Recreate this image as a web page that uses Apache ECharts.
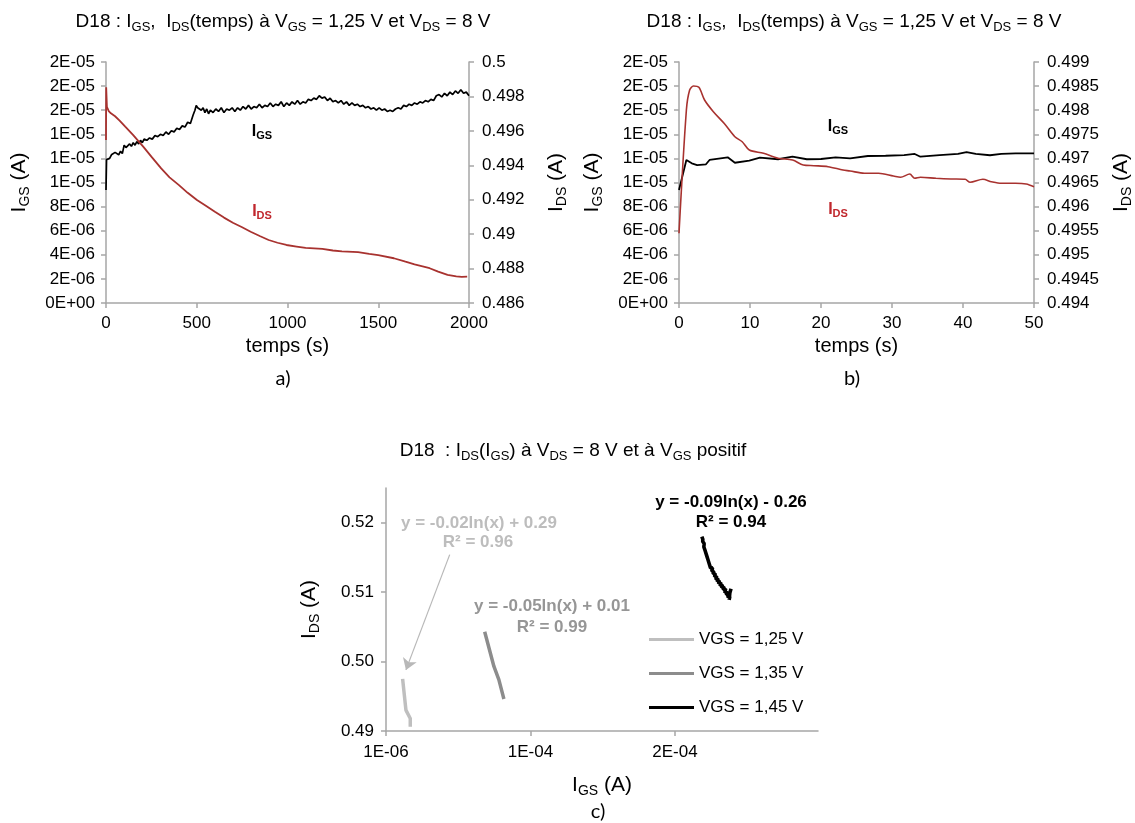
<!DOCTYPE html>
<html><head><meta charset="utf-8">
<script src="https://cdn.jsdelivr.net/npm/echarts@6/dist/echarts.min.js"></script>
<style>html,body{margin:0;padding:0;background:#fff}#c{width:1135px;height:823px}</style>
</head><body><div id="c"></div>
<script>
// ---------- Chart a : IGS, IDS vs time (0-2000 s) ----------
const tA_igs = [
  0,3,10,20,30,40,50,60,70,80,
  90,100,110,120,130,140,150,160,170,180,
  190,200,210,225,240,255,270,285,300,315,
  330,345,360,375,390,405,420,435,450,465,
  480,490,497,505,515,525,535,545,555,565,
  575,590,605,620,635,650,665,680,695,710,
  725,740,755,770,785,800,815,830,845,860,
  875,890,905,920,935,950,965,980,995,1010,
  1025,1040,1055,1070,1085,1100,1115,1130,1145,1160,
  1175,1190,1205,1220,1235,1250,1265,1280,1295,1310,
  1325,1340,1355,1370,1385,1400,1415,1430,1445,1460,
  1475,1490,1505,1520,1535,1550,1565,1580,1595,1610,
  1625,1640,1655,1670,1685,1700,1715,1730,1745,1760,
  1775,1790,1805,1820,1835,1850,1865,1880,1895,1910,
  1925,1940,1955,1970,1985,2000
];
const igsA = [
  0.938e-5,1.19e-5,1.18e-5,1.20e-5,1.23e-5,1.22e-5,1.25e-5,1.24e-5,1.23e-5,1.26e-5,
  1.24e-5,1.31e-5,1.29e-5,1.30e-5,1.32e-5,1.30e-5,1.33e-5,1.31e-5,1.34e-5,1.32e-5,
  1.35e-5,1.33e-5,1.36e-5,1.35e-5,1.37e-5,1.36e-5,1.39e-5,1.38e-5,1.40e-5,1.39e-5,
  1.42e-5,1.40e-5,1.43e-5,1.42e-5,1.45e-5,1.44e-5,1.47e-5,1.46e-5,1.50e-5,1.49e-5,
  1.56e-5,1.60e-5,1.64e-5,1.62e-5,1.63e-5,1.60e-5,1.62e-5,1.58e-5,1.61e-5,1.57e-5,
  1.60e-5,1.58e-5,1.61e-5,1.59e-5,1.62e-5,1.58e-5,1.61e-5,1.60e-5,1.62e-5,1.59e-5,
  1.62e-5,1.60e-5,1.63e-5,1.61e-5,1.64e-5,1.61e-5,1.63e-5,1.62e-5,1.65e-5,1.62e-5,
  1.64e-5,1.63e-5,1.66e-5,1.63e-5,1.65e-5,1.64e-5,1.67e-5,1.63e-5,1.66e-5,1.64e-5,
  1.67e-5,1.65e-5,1.68e-5,1.65e-5,1.67e-5,1.66e-5,1.69e-5,1.68e-5,1.70e-5,1.69e-5,
  1.72e-5,1.70e-5,1.71e-5,1.68e-5,1.70e-5,1.67e-5,1.68e-5,1.66e-5,1.68e-5,1.65e-5,
  1.67e-5,1.64e-5,1.66e-5,1.64e-5,1.65e-5,1.63e-5,1.64e-5,1.62e-5,1.63e-5,1.61e-5,
  1.62e-5,1.60e-5,1.62e-5,1.60e-5,1.61e-5,1.59e-5,1.60e-5,1.59e-5,1.61e-5,1.62e-5,
  1.61e-5,1.64e-5,1.63e-5,1.65e-5,1.64e-5,1.66e-5,1.65e-5,1.67e-5,1.66e-5,1.68e-5,
  1.67e-5,1.69e-5,1.68e-5,1.72e-5,1.73e-5,1.71e-5,1.74e-5,1.72e-5,1.75e-5,1.73e-5,
  1.76e-5,1.74e-5,1.77e-5,1.74e-5,1.75e-5,1.72e-5
];
const tA_ids = [
  0,1,5,15,27,50,75,106,150,205,
  250,304,350,402,450,501,550,600,650,699,
  750,797,850,896,945,994,1050,1100,1192,1250,
  1300,1389,1450,1500,1586,1650,1700,1783,1830,1882,
  1930,1960,1990
];
const idsA = [
  0.49547,0.49853,0.4974,0.49715,0.49702,0.49685,0.4966,0.49624,0.49575,0.49508,
  0.4945,0.49382,0.4933,0.49285,0.4924,0.49198,0.49165,0.4913,0.49096,0.49066,
  0.4904,0.49014,0.48988,0.48966,0.4895,0.48937,0.48928,0.4892,0.48914,0.48905,
  0.489,0.48895,0.48885,0.48878,0.4886,0.4884,0.48825,0.48802,0.48782,0.48763,
  0.48755,0.48752,0.48753
];

// ---------- Chart b : zoom on the first 50 s ----------
const tB_igs = [
  0,1.04,1.8,2.55,3.8,4.3,5.85,6.86,7.87,9.9,
  11.4,13.95,15.98,18,20,22.06,24.1,26.6,29.1,31.7,
  33.2,34,36.7,39.3,40.5,41.8,43.8,45.4,47.4,50
];
const igsB = [
  0.938e-5,1.187e-5,1.159e-5,1.145e-5,1.151e-5,1.187e-5,1.201e-5,1.209e-5,1.164e-5,1.181e-5,
  1.206e-5,1.193e-5,1.214e-5,1.193e-5,1.195e-5,1.209e-5,1.201e-5,1.220e-5,1.222e-5,1.228e-5,
  1.237e-5,1.214e-5,1.228e-5,1.237e-5,1.253e-5,1.237e-5,1.226e-5,1.237e-5,1.242e-5,1.242e-5
];
const tB_ids = [
  0,1.04,1.5,2.04,2.8,3.6,4.84,6.35,7.87,8.9,
  9.9,11.9,13.95,16,17.5,19,21,23.1,24.1,26.1,
  28.1,30.2,31.2,32.5,33.2,34,36.2,38.3,40.3,41,
  42.8,44,45.4,47.4,48.9,50
];
const idsB = [
  0.495446,0.498004,0.498419,0.498502,0.498475,0.498212,0.497969,0.497728,0.49745,0.497346,
  0.497174,0.497106,0.497002,0.496967,0.496863,0.496849,0.496828,0.496759,0.496739,0.496691,
  0.496691,0.496635,0.496608,0.496676,0.496587,0.496608,0.496587,0.496573,0.496566,0.496504,
  0.496566,0.496517,0.496483,0.496483,0.496469,0.496413
];

// ---------- Chart c : IDS(IGS) ----------
const seriesNames = ['VGS = 1,25 V', 'VGS = 1,35 V', 'VGS = 1,45 V'];
const igs125 = [1.25e-5, 1.48e-5, 1.78e-5, 1.78e-5];
const ids125 = [0.4975, 0.4930, 0.4918, 0.4906];
const igs135 = [6.93e-5, 7.57e-5, 7.91e-5, 8.26e-5];
const ids135 = [0.5043, 0.4993, 0.4974, 0.4946];
const igs145 = [
  2.196e-4,2.203e-4,2.202e-4,2.212e-4,2.210e-4,2.222e-4,2.220e-4,2.232e-4,2.229e-4,2.242e-4,
  2.238e-4,2.251e-4,2.247e-4,2.260e-4,2.256e-4,2.270e-4,2.265e-4,2.279e-4,2.274e-4,2.289e-4,
  2.284e-4,2.299e-4,2.293e-4,2.308e-4,2.302e-4,2.317e-4,2.312e-4,2.328e-4,2.322e-4,2.339e-4,
  2.333e-4,2.350e-4,2.344e-4,2.361e-4,2.355e-4,2.371e-4,2.366e-4,2.381e-4,2.376e-4,2.390e-4,
  2.385e-4,2.395e-4,2.392e-4,2.390e-4,2.398e-4
];
const ids145 = [
  0.5180,0.5176,0.5173,0.5170,0.5165,0.5164,0.5159,0.5158,0.5153,0.5152,
  0.5147,0.5146,0.5141,0.5140,0.5135,0.5135,0.5130,0.5130,0.5126,0.5127,
  0.5122,0.5123,0.5118,0.5120,0.5115,0.5117,0.5112,0.5114,0.5109,0.5111,
  0.5106,0.5108,0.5103,0.5105,0.5099,0.5101,0.5096,0.5097,0.5092,0.5094,
  0.5089,0.5091,0.5087,0.5099,0.5105
];
const arrowFrom = [4.51e-5, 0.5154];
const arrowTo = [1.48e-5, 0.4988];
const fitTexts = [
  ['y = -0.02ln(x) + 0.29', 'R² = 0.96'],
  ['y = -0.05ln(x) + 0.01', 'R² = 0.99'],
  ['y = -0.09ln(x) - 0.26', 'R² = 0.94']
];
const xTicksC = [1e-6, 1.01e-4, 2.01e-4];
const yTicksC = [0.49, 0.50, 0.51, 0.52];

// ---------- helpers ----------
const FONT = 'Arial, "Liberation Sans", sans-serif';
const AXIS_GRAY = '#a6a6a6';
const RED = '#a8322f';
const pairs = (xs, ys) => xs.map((x, i) => [x, ys[i]]);
function sci(v) {
  if (Math.abs(v) < 1e-15) return '0E+00';
  const s = v.toExponential(0).split('e');
  const n = parseInt(s[1], 10);
  return s[0] + 'E' + (n < 0 ? '-' : '+') + String(Math.abs(n)).padStart(2, '0');
}
function rich(size, subSize, color, weight) {
  return {
    m: {fontSize: size, fontFamily: FONT, color: color, fill: color, fontWeight: weight || 'normal', lineHeight: Math.round(size * 1.2)},
    s: {fontSize: subSize, fontFamily: FONT, color: color, fill: color, fontWeight: weight || 'normal', lineHeight: subSize, verticalAlign: 'bottom'}
  };
}
function gtext(x, y, text, r) {
  return {type: 'text', x: x, y: y, silent: true,
    style: {text: text, rich: r, align: 'center', verticalAlign: 'middle', textAlign: 'center', textVerticalAlign: 'middle'}};
}
function gplain(x, y, text, size, color, weight, family) {
  return {type: 'text', x: x, y: y, silent: true,
    style: {text: text, fontSize: size, fontFamily: family || FONT, fontWeight: weight || 'normal', fill: color, textFill: color,
      align: 'center', verticalAlign: 'middle', textAlign: 'center', textVerticalAlign: 'middle'}};
}
const labelStyle = {fontSize: 17, fontFamily: FONT, color: '#000'};
const axisLineStyle = {show: true, lineStyle: {color: AXIS_GRAY, width: 1.5}};
const tickStyle = {show: true, length: 5, lineStyle: {color: AXIS_GRAY, width: 1.5}};
const nameRich = rich(21, 14, '#000');

function timeX(grid, max, interval) {
  return {type: 'value', gridIndex: grid, min: 0, max: max, interval: interval,
    axisLine: axisLineStyle, axisTick: tickStyle, splitLine: {show: false},
    axisLabel: Object.assign({margin: 12, formatter: v => String(v)}, labelStyle),
    name: 'temps (s)', nameLocation: 'middle', nameGap: 33,
    nameTextStyle: {fontSize: 20, fontFamily: FONT, color: '#000'}};
}
function igsY(grid) {
  return {type: 'value', gridIndex: grid, position: 'left', min: 0, max: 2e-5, interval: 2e-6,
    axisLine: axisLineStyle, axisTick: tickStyle, splitLine: {show: false},
    axisLabel: Object.assign({margin: 11, formatter: sci}, labelStyle),
    name: '{m|I}{s|GS}{m| (A)}', nameLocation: 'middle', nameGap: 74, nameTextStyle: {rich: nameRich}};
}
function idsY(grid, min, max, interval) {
  return {type: 'value', gridIndex: grid, position: 'right', min: min, max: max, interval: interval,
    axisLine: axisLineStyle, axisTick: tickStyle, splitLine: {show: false},
    axisLabel: Object.assign({margin: 13, formatter: v => String(parseFloat(v.toFixed(5)))}, labelStyle),
    name: '{m|I}{s|DS}{m| (A)}', nameLocation: 'middle', nameGap: 75, nameTextStyle: {rich: nameRich}};
}
function lineSeries(name, xi, yi, data, color, width) {
  return {name: name, type: 'line', xAxisIndex: xi, yAxisIndex: yi, data: data, symbol: 'none',
    showSymbol: false, animation: false, itemStyle: {color: color}, lineStyle: {color: color, width: width}};
}

const titleRich = rich(19, 13, '#000');
const inA_black = rich(16, 11, '#000', 'bold');
const inA_red = rich(16, 11, '#c0272d', 'bold');
const TITLE_AB = '{m|D18 : I}{s|GS}{m|,  I}{s|DS}{m|(temps) à V}{s|GS}{m| = 1,25 V et V}{s|DS}{m| = 8 V}';
const TITLE_C = '{m|D18  : I}{s|DS}{m|(I}{s|GS}{m|) à V}{s|DS}{m| = 8 V et à V}{s|GS}{m| positif}';

const chart = echarts.init(document.getElementById('c'), null, {renderer: 'canvas', width: 1135, height: 823});
const option = {
  backgroundColor: '#ffffff',
  animation: false,
  grid: [
    {left: 106, top: 62, width: 363, height: 241},
    {left: 679, top: 62, width: 362, height: 241},
    {left: 386, top: 488, width: 432, height: 243}
  ],
  xAxis: [
    timeX(0, 2000, 500),
    timeX(1, 50, 10),
    {type: 'value', gridIndex: 2, min: 1e-6, max: 3e-4, interval: 1e-4,
      axisLine: axisLineStyle, splitLine: {show: false},
      axisTick: Object.assign({customValues: xTicksC}, tickStyle),
      axisLabel: Object.assign({margin: 13, customValues: xTicksC, formatter: v => (v > 2.5e-4 ? '' : sci(v))}, labelStyle),
      name: '{m|I}{s|GS}{m| (A)}', nameLocation: 'middle', nameGap: 42, nameTextStyle: {rich: nameRich}}
  ],
  yAxis: [
    igsY(0),
    idsY(0, 0.486, 0.5, 0.002),
    igsY(1),
    idsY(1, 0.494, 0.499, 0.0005),
    {type: 'value', gridIndex: 2, min: 0.49, max: 0.525, interval: 0.01,
      axisLine: axisLineStyle, splitLine: {show: false},
      axisTick: Object.assign({customValues: yTicksC}, tickStyle),
      axisLabel: Object.assign({margin: 12, customValues: yTicksC, formatter: v => (v > 0.5205 ? '' : v.toFixed(2))}, labelStyle),
      name: '{m|I}{s|DS}{m| (A)}', nameLocation: 'middle', nameGap: 64, nameTextStyle: {rich: nameRich}}
  ],
  legend: {
    data: seriesNames, orient: 'vertical', left: 649, top: 631, padding: 0, itemWidth: 45, itemHeight: 3, itemGap: 17,
    icon: 'rect', textStyle: {fontSize: 17, fontFamily: FONT, color: '#000'}, selectedMode: false
  },
  series: [
    lineSeries('IGS a', 0, 0, pairs(tA_igs, igsA), '#000000', 1.7),
    lineSeries('IDS a', 0, 1, pairs(tA_ids, idsA), RED, 1.8),
    lineSeries('IGS b', 1, 2, pairs(tB_igs, igsB), '#000000', 1.8),
    Object.assign(lineSeries('IDS b', 1, 3, pairs(tB_ids, idsB), RED, 1.6), {smooth: 0.3}),
    Object.assign(lineSeries(seriesNames[0], 2, 4, pairs(igs125, ids125), '#bfbfbf', 3.5), {
      markLine: {silent: true, symbol: ['none', 'arrow'], symbolSize: 11, animation: false,
        lineStyle: {color: '#b8b8b8', width: 1.2, type: 'solid'}, label: {show: false},
        data: [[{coord: arrowFrom}, {coord: arrowTo}]]}
    }),
    lineSeries(seriesNames[1], 2, 4, pairs(igs135, ids135), '#8c8c8c', 3.5),
    lineSeries(seriesNames[2], 2, 4, pairs(igs145, ids145), '#000000', 3.6)
  ],
  graphic: [
    gtext(283, 22, TITLE_AB, titleRich),
    gtext(854, 22, TITLE_AB, titleRich),
    gtext(573, 451, TITLE_C, titleRich),
    gtext(262, 132, '{m|I}{s|GS}', inA_black),
    gtext(262, 212, '{m|I}{s|DS}', inA_red),
    gtext(838, 127, '{m|I}{s|GS}', inA_black),
    gtext(838, 210, '{m|I}{s|DS}', inA_red),
    gplain(283, 379, 'a)', 20, '#000', 'normal', 'Lato, "Open Sans", sans-serif'),
    gplain(852, 379, 'b)', 20, '#000', 'normal', 'Lato, "Open Sans", sans-serif'),
    gplain(598, 812, 'c)', 20, '#000', 'normal', 'Lato, "Open Sans", sans-serif'),
    gplain(479, 523, fitTexts[0][0], 17, '#bdbdbd', 'bold'),
    gplain(478, 542, fitTexts[0][1], 17, '#bdbdbd', 'bold'),
    gplain(552, 606, fitTexts[1][0], 17, '#969696', 'bold'),
    gplain(552, 627, fitTexts[1][1], 17, '#969696', 'bold'),
    gplain(731, 502, fitTexts[2][0], 17, '#000', 'bold'),
    gplain(731, 522, fitTexts[2][1], 17, '#000', 'bold')
  ]
};
chart.setOption(option);
</script></body></html>
